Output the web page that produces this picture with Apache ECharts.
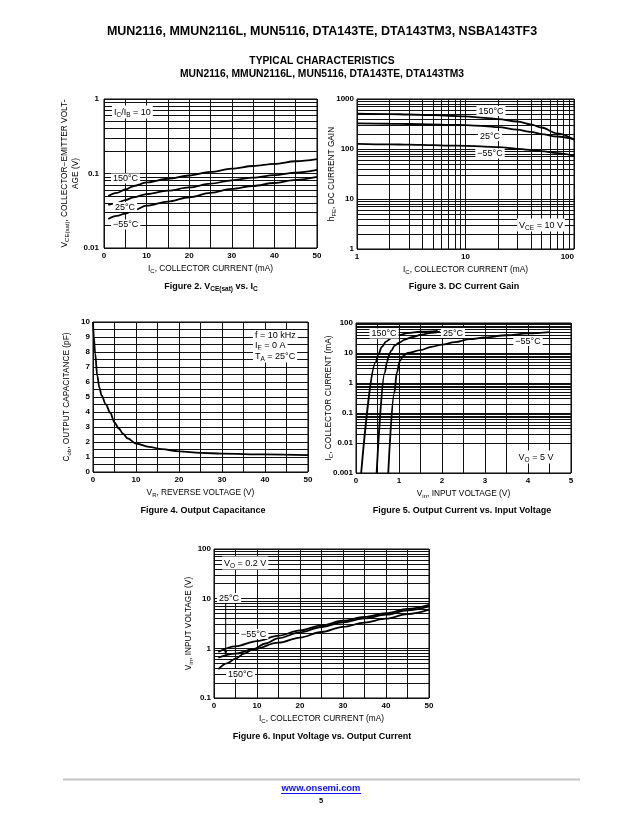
<!DOCTYPE html>
<html><head><meta charset="utf-8">
<script src="https://cdn.jsdelivr.net/npm/echarts@6/dist/echarts.min.js"></script>
<style>html,body{margin:0;padding:0;background:#fff}#c{width:643px;height:831px}</style>
</head><body><div id="c"></div>
<script>
// ---------- DATA ----------
// Figure 2: VCE(sat) vs IC
const fig2XTicks = [0, 10, 20, 30, 40, 50];
const fig2YTicks = [0.01, 0.1, 1];
const fig2_150 = [[1,0.050],[3,0.055],[5,0.061],[7,0.068],[10,0.076],[15,0.085],[20,0.094],[25,0.105],[30,0.116],[35,0.126],[40,0.135],[45,0.146],[50,0.156]];
const fig2_25  = [[1,0.038],[3,0.040],[5,0.044],[7,0.048],[10,0.053],[15,0.059],[20,0.065],[25,0.073],[30,0.081],[35,0.088],[40,0.095],[45,0.103],[50,0.112]];
const fig2_m55 = [[1,0.0245],[3,0.027],[5,0.029],[7,0.032],[10,0.037],[15,0.042],[20,0.048],[25,0.055],[30,0.062],[35,0.068],[40,0.0745],[45,0.082],[50,0.0898]];
// Figure 3: DC current gain
const fig3XTicks = [1, 10, 100];
const fig3YTicks = [1, 10, 100, 1000];
const fig3_150 = [[1,507],[2,500],[3,490],[5,475],[7,462],[10,448],[15,420],[20,395],[30,355],[40,310],[50,269],[70,205],[100,153]];
const fig3_25  = [[1,324],[2,320],[3,316],[5,310],[7,305],[10,301],[15,288],[20,274],[30,243],[40,220],[50,199],[70,178],[100,158]];
const fig3_m55 = [[1,127],[2,124],[3,122],[5,119],[7,117],[10,116],[15,112],[20,109],[30,101],[50,91],[70,83],[100,74]];
// Figure 4: Output capacitance
const fig4XTicks = [0, 10, 20, 30, 40, 50];
const fig4YTicks = [0,1,2,3,4,5,6,7,8,9,10];
const fig4_cob = [[0,10],[0.2,9.0],[0.5,7.9],[1,6.4],[1.5,5.6],[2,5.1],[3,4.5],[4,3.95],[5,3.3],[6,2.9],[7,2.55],[8,2.25],[10,1.9],[13,1.68],[16,1.52],[20,1.38],[25,1.28],[30,1.22],[40,1.17],[50,1.12]];
// Figure 5: Output current vs input voltage
const fig5XTicks = [0, 1, 2, 3, 4, 5];
const fig5YTicks = [0.001, 0.01, 0.1, 1, 10, 100];
const fig5_150 = [[0.12,0.001],[0.46,5],[0.52,9],[0.6,16],[0.7,24],[0.83,32],[1.0,40],[1.2,46],[1.5,51],[1.9,55]];
const fig5_25  = [[0.48,0.001],[0.67,2.2],[0.72,5],[0.76,8],[0.82,12],[0.9,17.6],[1.0,22],[1.14,28],[1.3,34],[1.53,41],[1.75,47],[1.95,52]];
const fig5_m55 = [[0.75,0.001],[0.89,0.46],[0.95,2.2],[1.02,5.5],[1.1,8],[1.2,10],[1.5,12.5],[1.75,16],[2.0,19],[2.3,23],[2.65,29],[3.0,33],[3.5,39],[4.0,45],[4.5,50]];
// Figure 6: Input voltage vs output current
const fig6XTicks = [0, 10, 20, 30, 40, 50];
const fig6YTicks = [0.1, 1, 10, 100];
const fig6_m55 = [[1,0.85],[5,1.1],[10,1.4],[15,1.8],[20,2.3],[25,2.9],[30,3.6],[35,4.3],[40,5.1],[45,6.2],[50,7.5]];
const fig6_25  = [[1,0.65],[5,0.78],[9,0.95],[15,1.3],[20,1.65],[25,2.13],[30,2.7],[35,3.3],[40,3.95],[45,4.9],[50,6.0]];
const fig6_150 = [[1,0.38],[3,0.5],[5,0.62],[7,0.78],[9,0.95],[12,1.25],[15,1.6],[20,2.1],[25,2.69],[30,3.35],[35,4.0],[40,4.75],[45,5.8],[50,7.0]];

// ---------- STYLE / HELPERS ----------
const FONT = '"Liberation Sans", Arial, Helvetica, sans-serif';
const GRID_COLOR = '#111';
const fmt = v => String(+(+v).toPrecision(3));
function minorLog(ticks){
  const out = [];
  for (let i = 0; i < ticks.length - 1; i++) for (let k = 2; k <= 9; k++) out.push(+(k * ticks[i]).toPrecision(3));
  return out;
}
function subRich(size, bold){
  return {s:{fontSize:size, fontFamily:FONT, fontWeight:bold?'bold':'normal', color:'#000', padding:[Math.round(size*0.75),0,0,0]}};
}
const labelBase = {color:'#000', fontFamily:FONT, fontSize:8, fontWeight:'bold'};
function nameStyle(){ return {color:'#000', fontFamily:FONT, fontSize:8.3, lineHeight:11, rich:subRich(6,false)}; }
const split = {show:true, lineStyle:{color:GRID_COLOR, width:1}};
function linAxis(gi, ticks, name, gap, isY, margin){
  return {type:'value', gridIndex:gi, min:ticks[0], max:ticks[ticks.length-1], interval:ticks[1]-ticks[0],
    axisLine:{show:false}, axisTick:{show:false},
    axisLabel:Object.assign({}, labelBase, {margin:margin, formatter:fmt}),
    splitLine:split, minorTick:{show:false, splitNumber:2},
    minorSplitLine:{show:true, lineStyle:{color:GRID_COLOR, width:1}},
    name:name, nameLocation:'middle', nameGap:gap, nameRotate:isY?90:0, nameMoveOverlap:false, nameTextStyle:nameStyle()};
}
function logAxis(gi, ticks, name, gap, isY, margin, extra){
  return Object.assign({type:'log', logBase:10, gridIndex:gi, min:ticks[0], max:ticks[ticks.length-1],
    axisLine:{show:false}, axisTick:{show:false},
    axisLabel:Object.assign({}, labelBase, {margin:margin, formatter:fmt}),
    splitLine:split,
    name:name, nameLocation:'middle', nameGap:gap, nameRotate:isY?90:0, nameMoveOverlap:false, nameTextStyle:nameStyle()}, extra||{});
}
// helper series carrying the minor log grid lines (drawn beneath the curves)
function gridSeries(gi, xs, ys){
  const data = [];
  (xs||[]).forEach(v => data.push({xAxis:v}));
  (ys||[]).forEach(v => data.push({yAxis:v}));
  return {type:'line', xAxisIndex:gi, yAxisIndex:gi, data:[], z:1, silent:true, animation:false,
    markLine:{silent:true, symbol:['none','none'], label:{show:false}, animation:false,
      lineStyle:{color:GRID_COLOR, width:1, type:'solid'}, emphasis:{disabled:true}, data:data}};
}
function curve(gi, data){
  return {type:'line', xAxisIndex:gi, yAxisIndex:gi, data:data, showSymbol:false, symbol:'none',
    smooth:0.35, smoothMonotone:'x', lineStyle:{color:'#000', width:1.8}, z:5, animation:false, silent:true};
}
const sub = (t) => '{s|' + t + '}';

// ---------- OPTION ----------
const grids = [
  {left:104, top:99, width:213, height:149},
  {left:357, top:99, width:217, height:150},
  {left:93, top:322, width:215, height:150},
  {left:356, top:323, width:215, height:150},
  {left:214, top:549, width:215, height:149}
].map(g => Object.assign({show:true, borderColor:'#000', borderWidth:1, backgroundColor:'transparent', containLabel:false}, g));

const option = {
  animation:false,
  backgroundColor:'#fff',
  grid:grids,
  xAxis:[
    linAxis(0, fig2XTicks, 'I' + sub('C') + ', COLLECTOR CURRENT (mA)', 15, false, 4),
    logAxis(1, fig3XTicks, 'I' + sub('C') + ', COLLECTOR CURRENT (mA)', 15, false, 4, {axisLabel:Object.assign({}, labelBase, {margin:4, formatter:fmt, alignMaxLabel:'right'})}),
    linAxis(2, fig4XTicks, 'V' + sub('R') + ', REVERSE VOLTAGE (V)', 15, false, 4),
    linAxis(3, fig5XTicks, 'V' + sub('in') + ', INPUT VOLTAGE (V)', 15, false, 4),
    linAxis(4, fig6XTicks, 'I' + sub('C') + ', COLLECTOR CURRENT (mA)', 15, false, 4)
  ],
  yAxis:[
    logAxis(0, fig2YTicks, 'V' + sub('CE(sat)') + ', COLLECTOR\u2212EMITTER VOLT-\nAGE (V)', 23, true, 5),
    logAxis(1, fig3YTicks, 'h' + sub('FE') + ', DC CURRENT GAIN', 20, true, 3),
    linAxis(2, fig4YTicks, 'C' + sub('ob') + ', OUTPUT CAPACITANCE (pF)', 21, true, 3),
    logAxis(3, fig5YTicks, 'I' + sub('C') + ', COLLECTOR CURRENT (mA)', 22, true, 3),
    logAxis(4, fig6YTicks, 'V' + sub('in') + ', INPUT VOLTAGE (V)', 20, true, 3)
  ],
  series:[
    gridSeries(0, null, minorLog(fig2YTicks)),
    gridSeries(1, minorLog(fig3XTicks), minorLog(fig3YTicks)),
    gridSeries(3, null, minorLog(fig5YTicks)),
    gridSeries(4, null, minorLog(fig6YTicks)),
    curve(0, fig2_150), curve(0, fig2_25), curve(0, fig2_m55),
    curve(1, fig3_150), curve(1, fig3_25), curve(1, fig3_m55),
    curve(2, fig4_cob),
    curve(3, fig5_150), curve(3, fig5_25), curve(3, fig5_m55),
    curve(4, fig6_m55), curve(4, fig6_25), curve(4, fig6_150)
  ],
  graphic:[]
};

// ---------- TEXTS ----------
function txt(x, y, text, o){
  o = o || {};
  const size = o.size || 9;
  return {type:'text', x:x, y:y, z:100, silent:true,
    style:{text:text, fontFamily:FONT, fontSize:size, fontWeight:o.bold?'bold':'normal', fill:o.color||'#000',
      align:o.align||'center', verticalAlign:'middle',
      backgroundColor:o.bg?'#fff':undefined, padding:o.bg?(o.pad||[1,2,0,2]):undefined,
      rich:subRich(Math.round(size*0.72*10)/10, !!o.bold)}};
}
const G = option.graphic;
// page headings
G.push(txt(322, 32, 'MUN2116, MMUN2116L, MUN5116, DTA143TE, DTA143TM3, NSBA143TF3', {size:12.5, bold:true}));
G.push(txt(322, 61.5, 'TYPICAL CHARACTERISTICS', {size:10.3, bold:true}));
G.push(txt(322, 74.5, 'MUN2116, MMUN2116L, MUN5116, DTA143TE, DTA143TM3', {size:10.3, bold:true}));
// captions
G.push(txt(211, 287, 'Figure 2. V' + sub('CE(sat)') + ' vs. I' + sub('C'), {size:9, bold:true}));
G.push(txt(464, 287, 'Figure 3. DC Current Gain', {size:9, bold:true}));
G.push(txt(203, 511, 'Figure 4. Output Capacitance', {size:9, bold:true}));
G.push(txt(462, 511, 'Figure 5. Output Current vs. Input Voltage', {size:9, bold:true}));
G.push(txt(322, 737, 'Figure 6. Input Voltage vs. Output Current', {size:9, bold:true}));
// fig 2 labels
G.push(txt(112, 112, 'I' + sub('C') + '/I' + sub('B') + ' = 10', {bg:true, align:'left'}));
G.push(txt(111, 178.5, '150\u00B0C', {bg:true, align:'left'}));
G.push(txt(113, 207, '25\u00B0C', {bg:true, align:'left'}));
G.push(txt(111, 224.5, '\u221255\u00B0C', {bg:true, align:'left'}));
// fig 3 labels
G.push(txt(491, 111, '150\u00B0C', {bg:true}));
G.push(txt(490, 136, '25\u00B0C', {bg:true}));
G.push(txt(490, 153.5, '\u221255\u00B0C', {bg:true}));
G.push(txt(541, 225, 'V' + sub('CE') + ' = 10 V', {bg:true}));
// fig 4 labels
G.push(txt(253, 335, 'f = 10 kHz', {bg:true, align:'left'}));
G.push(txt(253, 345.5, 'I' + sub('E') + ' = 0 A', {bg:true, align:'left'}));
G.push(txt(253, 356, 'T' + sub('A') + ' = 25\u00B0C', {bg:true, align:'left'}));
// fig 5 labels
G.push(txt(384, 333.5, '150\u00B0C', {bg:true}));
G.push(txt(453, 333, '25\u00B0C', {bg:true}));
G.push(txt(528, 341, '\u221255\u00B0C', {bg:true}));
G.push(txt(536, 457, 'V' + sub('O') + ' = 5 V', {bg:true}));
// fig 6 labels
G.push(txt(222, 563, 'V' + sub('O') + ' = 0.2 V', {bg:true, align:'left'}));
G.push(txt(217, 598, '25\u00B0C', {bg:true, align:'left'}));
G.push({type:'line', z:90, silent:true, shape:{x1:225.7, y1:603, x2:225.7, y2:652}, style:{stroke:'#000', lineWidth:1}});
G.push({type:'polygon', z:90, silent:true, shape:{points:[[223.7,650],[227.7,650],[225.7,655]]}, style:{fill:'#000'}});
G.push(txt(239, 634, '\u221255\u00B0C', {bg:true, align:'left'}));
G.push(txt(226, 674, '150\u00B0C', {bg:true, align:'left'}));
// footer
G.push({type:'line', silent:true, shape:{x1:63, y1:779.5, x2:580, y2:779.5}, style:{stroke:'#c4c4c4', lineWidth:2}});
G.push(txt(321, 788.5, 'www.onsemi.com', {size:9.4, bold:true, color:'#1010ff'}));
G.push({type:'line', silent:true, shape:{x1:281, y1:793.5, x2:361, y2:793.5}, style:{stroke:'#1010ff', lineWidth:1}});
G.push(txt(321, 800.5, '5', {size:7.5, bold:true}));

const chart = echarts.init(document.getElementById('c'), null, {renderer:'canvas'});
chart.setOption(option);
</script>
</body></html>
